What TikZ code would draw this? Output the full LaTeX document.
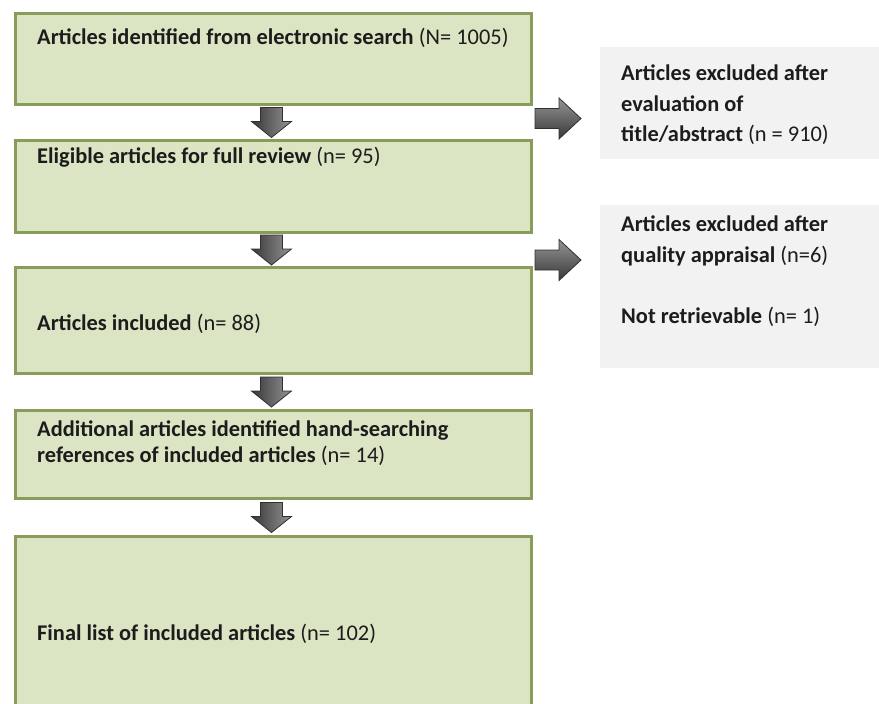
\documentclass[tikz,border=0pt]{standalone}
\usepackage{fontspec}
\setmainfont{Carlito}
\usetikzlibrary{calc}
\definecolor{boxfill}{HTML}{DCE5C3}
\definecolor{boxline}{HTML}{8A9C5B}
\definecolor{grayfill}{HTML}{F2F2F2}
\definecolor{arrowline}{HTML}{303030}
\definecolor{txtcol}{HTML}{1C1C1C}
\begin{document}
\begin{tikzpicture}[x=1pt,y=-1pt,
  greenbox/.style={draw=boxline, line width=3pt, fill=boxfill, anchor=north west, minimum width=516pt, inner sep=0pt},
  graybox/.style={fill=grayfill, anchor=north west, minimum width=279pt, inner sep=0pt},
  txt/.style={anchor=west, inner sep=0pt, align=left, text=txtcol, font=\fontsize{22.4}{26}\selectfont\bfseries},
  gtxt/.style={anchor=north west, inner sep=0pt, align=left, text=txtcol, font=\fontsize{22.4}{30.5}\selectfont\bfseries},
  blockarrow/.style={draw=arrowline, line width=0.8pt, line join=miter},
  downshade/.style={left color=black!78, right color=black!42},
  rightshade/.style={top color=black!42, bottom color=black!78},
  downarr/.pic={\path[blockarrow, downshade] (-11,-15) -- (11,-15) -- (11,-1) -- (20,-1) -- (0,15) -- (-20,-1) -- (-11,-1) -- cycle;},
  rightarr/.pic={\path[blockarrow, rightshade] (-23,-10) -- (1,-10) -- (1,-20.5) -- (23,0) -- (1,20.5) -- (1,10) -- (-23,10) -- cycle;}
]
\useasboundingbox (0,0) rectangle (879,704);
\clip (0,0) rectangle (879,704);

% main boxes
\node[greenbox, minimum height=91pt] (b1) at (14,12) {};
\node[greenbox, minimum height=92pt] (b2) at (14,139) {};
\node[greenbox, minimum height=106pt] (b3) at (14,266) {};
\node[greenbox, minimum height=88pt] (b4) at (14,409) {};
\node[greenbox, minimum height=200pt] (b5) at (14,535) {};

% side boxes
\node[graybox, minimum height=112pt] (g1) at (600,47) {};
\node[graybox, minimum height=163pt] (g2) at (600,205) {};

% texts
\node[txt] (t1) at (37,38) {Articles identified from electronic search {\mdseries(N= 1005)}};
\node[txt] (t2) at (37,157) {Eligible articles for full review {\mdseries(n= 95)}};
\node[txt] (t3) at (37,324) {Articles included {\mdseries(n= 88)}};
\node[txt] (t4) at (37,443) {Additional articles identified hand-searching\\references of included articles {\mdseries(n= 14)}};
\node[txt] (t5) at (37,634) {Final list of included articles {\mdseries(n= 102)}};
\node[gtxt] (s1) at (621,65) {Articles excluded after\\evaluation of\\title/abstract {\mdseries(n = 910)}};
\node[gtxt] (s2) at (621,216) {Articles excluded after\\quality appraisal {\mdseries(n=6)}\\[30.5pt]Not retrievable {\mdseries(n= 1)}};

% block arrows
\pic at ($(b1.south)!0.5!(b2.north)+(-2,0)$) {downarr};
\pic at ($(b2.south)!0.5!(b3.north)+(-2,0)$) {downarr};
\pic at ($(b3.south)!0.5!(b4.north)+(-2,0)$) {downarr};
\pic at ($(b4.south)!0.5!(b5.north)+(-2,0)$) {downarr};
\pic at ($(b1.south east)!0.5!(b2.north east)+(25,-4)$) {rightarr};
\pic at ($(b2.south east)!0.5!(b3.north east)+(25,10)$) {rightarr};
\end{tikzpicture}
\end{document}
